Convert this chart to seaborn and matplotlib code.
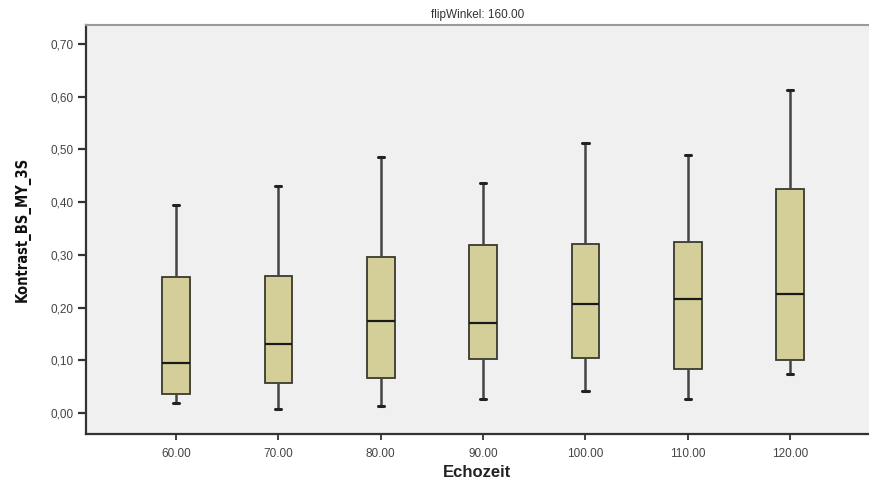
import numpy as np
import pandas as pd
import matplotlib
matplotlib.use("Agg")
import matplotlib.pyplot as plt
import seaborn as sns

# Five-number summaries
echozeit = ["60.00", "70.00", "80.00", "90.00", "100.00", "110.00", "120.00"]
whisker_low = [0.018, 0.007, 0.014, 0.026, 0.042, 0.026, 0.074]
q1 = [0.035, 0.056, 0.067, 0.103, 0.105, 0.083, 0.101]
median = [0.095, 0.131, 0.174, 0.171, 0.207, 0.216, 0.226]
q3 = [0.257, 0.259, 0.295, 0.318, 0.321, 0.324, 0.424]
whisker_high = [0.394, 0.430, 0.485, 0.437, 0.512, 0.490, 0.612]
yticks = [0.0, 0.1, 0.2, 0.3, 0.4, 0.5, 0.6, 0.7]
ytick_labels = ["0,00", "0,10", "0,20", "0,30", "0,40", "0,50", "0,60", "0,70"]

rows = []
for i, cat in enumerate(echozeit):
    for v in (whisker_low[i], q1[i], median[i], q3[i], whisker_high[i]):
        rows.append({"Echozeit": cat, "Kontrast_BS_MY_3S": v})
df = pd.DataFrame(rows)

sns.set_style("white")
plt.rcParams["font.family"] = ["Liberation Sans", "DejaVu Sans"]

fig = plt.figure(figsize=(8.69, 4.79), dpi=100)
ax = fig.add_axes([86 / 869, 1 - 434 / 479, 1 - 86 / 869, (434 - 25) / 479])
ax.set_facecolor("#F0F0F0")

kw = dict(data=df, x="Echozeit", y="Kontrast_BS_MY_3S", order=echozeit,
          color="#D4CF98", saturation=1, width=0.27, whis=(0, 100),
          linecolor="#3a3a30", linewidth=1.3, ax=ax,
          medianprops=dict(color="#1a1a1a", linewidth=1.6),
          whiskerprops=dict(color="#444444", linewidth=1.8),
          capprops=dict(color="#222222", linewidth=2.2))
try:
    sns.boxplot(capwidths=0.06, **kw)
except Exception:
    ax.cla()
    ax.set_facecolor("#F0F0F0")
    sns.boxplot(**kw)

ax.set_xlim(-0.88, 6.77)
ax.set_ylim(-0.04, 0.736)
ax.set_yticks(yticks)
ax.set_yticklabels(ytick_labels)

for s in ["left", "bottom"]:
    ax.spines[s].set_color("#333333")
    ax.spines[s].set_linewidth(1.6)
ax.spines["top"].set_color("#9a9a9a")
ax.spines["top"].set_linewidth(1.5)
ax.spines["right"].set_visible(False)

ax.tick_params(axis="y", direction="out", length=6, width=1.6, color="#333333",
               labelsize=8.5, labelcolor="#444444", pad=3, left=True)
ax.tick_params(axis="x", direction="out", length=4, width=1.3, color="#333333",
               labelsize=8.5, labelcolor="#444444", pad=6, bottom=True)

ax.set_xlabel("Echozeit", fontsize=12, fontweight="bold", color="#222222", labelpad=4)
ax.set_ylabel("Kontrast_BS_MY_3S", fontsize=10.5, color="#111111", labelpad=14,
              family=["DejaVu Sans"], fontstretch="condensed", fontweight="bold")
ax.set_title("flipWinkel: 160.00", fontsize=8.5, color="#333333", pad=5)

fig.savefig("out.png", dpi=100)
